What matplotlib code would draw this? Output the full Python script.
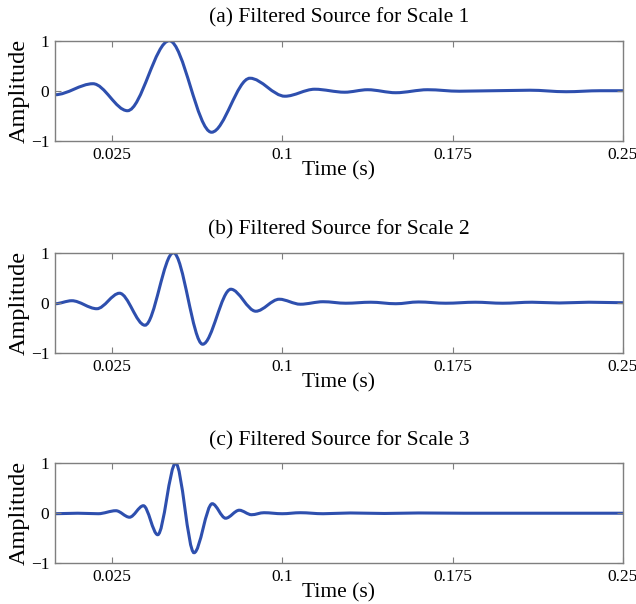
import matplotlib
matplotlib.use("Agg")
import matplotlib.pyplot as plt
from matplotlib.path import Path
from matplotlib.patches import PathPatch

plt.rcParams['font.family'] = ['Liberation Serif', 'DejaVu Serif']

titles = ["(a) Filtered Source for Scale 1",
          "(b) Filtered Source for Scale 2",
          "(c) Filtered Source for Scale 3"]

# extrema of each filtered wavelet (time in s, amplitude)
t1 = [0.0, 0.0167, 0.0319, 0.0503, 0.0689, 0.0858, 0.1012, 0.1143, 0.1275,
      0.1376, 0.150, 0.164, 0.178, 0.193, 0.209, 0.225, 0.24, 0.25]
a1 = [-0.08, 0.14, -0.40, 1.0, -0.83, 0.25, -0.11, 0.03, -0.03,
      0.02, -0.04, 0.02, -0.01, 0.0, 0.01, -0.02, 0.0, 0.0]

t2 = [0.0, 0.0074, 0.0184, 0.0284, 0.0396, 0.0521, 0.0650, 0.0774, 0.0884,
      0.0987, 0.108, 0.118, 0.128, 0.139, 0.150, 0.160, 0.172, 0.185,
      0.197, 0.21, 0.222, 0.235, 0.25]
a2 = [-0.02, 0.04, -0.12, 0.19, -0.45, 1.0, -0.83, 0.27, -0.17,
      0.07, -0.03, 0.02, -0.01, 0.01, -0.02, 0.015, -0.01, 0.01,
      -0.01, 0.01, -0.005, 0.01, 0.0]

t3 = [0.0, 0.01, 0.019, 0.0268, 0.0328, 0.0389, 0.0452, 0.0531, 0.0612,
      0.0692, 0.0751, 0.0811, 0.0865, 0.092, 0.1, 0.108, 0.118, 0.13,
      0.145, 0.16, 0.18, 0.25]
a3 = [-0.01, 0.0, -0.01, 0.05, -0.08, 0.15, -0.43, 1.0, -0.79,
      0.19, -0.10, 0.06, -0.03, 0.01, -0.01, 0.01, -0.01, 0.005,
      -0.005, 0.005, 0.0, 0.0]

series = [(t1, a1), (t2, a2), (t3, a3)]

xticks = [0.025, 0.1, 0.175, 0.25]
xtick_labels = ["0.025", "0.1", "0.175", "0.25"]
yticks = [-1, 0, 1]
ytick_labels = ["\u22121", "0", "1"]

line_color = "#2E4FAE"
axis_color = "#7F7F7F"

fig = plt.figure(figsize=(6.36, 6.04), dpi=100)
bottoms = [0.767, 0.416, 0.0675]
for (tt, aa), title, b in zip(series, titles, bottoms):
    ax = fig.add_axes([0.0865, b, 0.893, 0.1656])
    # smooth curve through the extrema (horizontal tangent at each extremum)
    verts = [(tt[0], aa[0])]
    codes = [Path.MOVETO]
    for i in range(1, len(tt)):
        dt = tt[i] - tt[i - 1]
        verts += [(tt[i - 1] + dt / 3, aa[i - 1]),
                  (tt[i] - dt / 3, aa[i]),
                  (tt[i], aa[i])]
        codes += [Path.CURVE4] * 3
    ax.add_patch(PathPatch(Path(verts, codes), fill=False,
                           edgecolor=line_color, lw=2.2, capstyle='round'))
    ax.set_xlim(0, 0.25)
    ax.set_ylim(-1, 1)
    ax.set_xticks(xticks)
    ax.set_xticklabels(xtick_labels)
    ax.set_yticks(yticks)
    ax.set_yticklabels(ytick_labels)
    ax.tick_params(direction='in', top=True, right=True, length=4,
                   color=axis_color, labelsize=12.5)
    ax.tick_params(axis='x', pad=4.5)
    ax.tick_params(axis='y', pad=4)
    for sp in ax.spines.values():
        sp.set_color(axis_color)
        sp.set_linewidth(1.0)
    ax.set_title(title, fontsize=15.5, pad=13)
    ax.set_xlabel("Time (s)", fontsize=15.5, labelpad=-1.5)
    ax.set_ylabel("Amplitude", fontsize=17.5, labelpad=1)

fig.savefig("out.png", dpi=100)
